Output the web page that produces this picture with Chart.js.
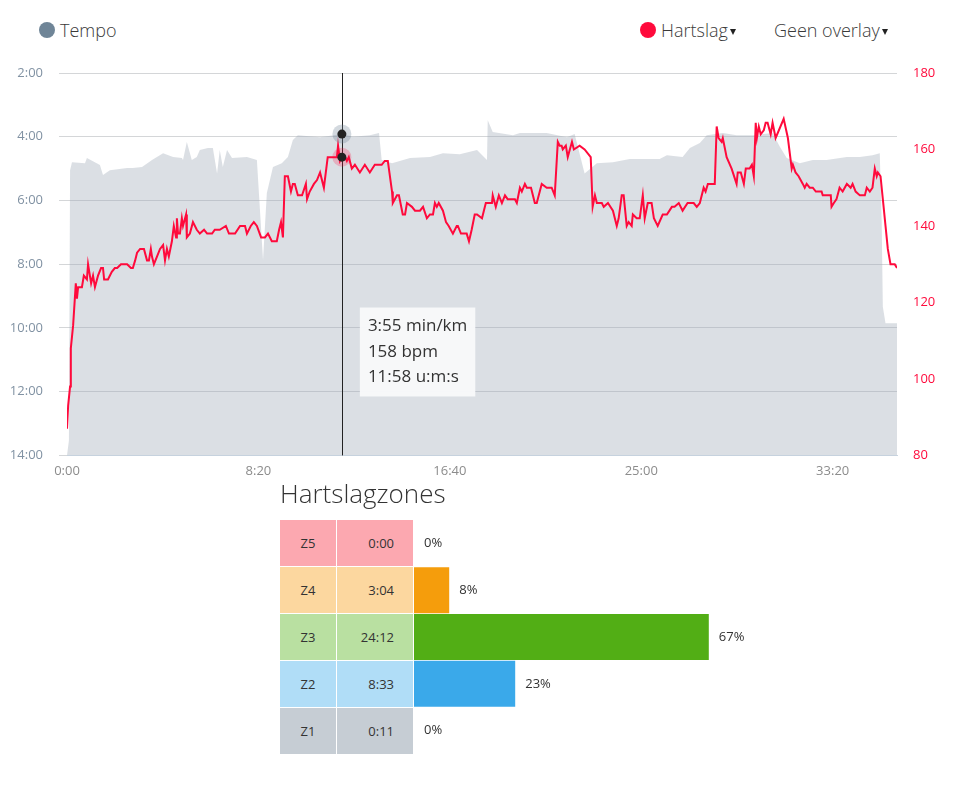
<!DOCTYPE html>
<html>
<head>
<meta charset="utf-8">
<script src="https://cdn.jsdelivr.net/npm/chart.js@4.4.0/dist/chart.umd.min.js"></script>
<style>
  body { margin: 0; background: #fff; font-family: "Open Sans", sans-serif; color: #333; width: 958px; height: 789px; overflow: hidden; position: relative; }
  .legend-item { position: absolute; top: 18px; font-size: 18px; line-height: 24px; display: flex; align-items: center; white-space: nowrap; color: #3a3a3a; font-weight: 300; }
  .dot { width: 16px; height: 16px; border-radius: 50%; display: inline-block; margin-right: 5px; }
  .caret { display: inline-block; width: 0; height: 0; margin-left: 2px; margin-top: 3px; border-left: 3.5px solid transparent; border-right: 3.5px solid transparent; border-top: 6px solid #222; }
  #mainWrap { position: absolute; left: 0; top: 60px; width: 958px; height: 430px; }
  #zonesTitle { position: absolute; left: 280px; top: 476px; font-size: 26px; line-height: 34px; font-weight: 300; color: #333; }
  #zoneGrid { position: absolute; left: 280px; top: 520px; display: grid; grid-template-columns: 56px 76px; grid-auto-rows: 46px; gap: 1px; }
  .cell { display: flex; align-items: center; font-size: 13px; }
  .cell.name { justify-content: center; }
  .cell.time { justify-content: flex-end; padding-right: 19px; }
  #barWrap { position: absolute; left: 414px; top: 520px; width: 500px; height: 234px; }
</style>
</head>
<body>

<div class="legend-item" style="left:39px"><span class="dot" style="background:#6f8597"></span>Tempo</div>
<div class="legend-item" style="left:640px"><span class="dot" style="background:#ff0a3c"></span>Hartslag<span class="caret"></span></div>
<div class="legend-item" style="left:774px">Geen overlay<span class="caret"></span></div>

<div id="mainWrap"><canvas id="mainChart"></canvas></div>

<div id="zonesTitle">Hartslagzones</div>
<div id="zoneGrid"></div>
<div id="barWrap"><canvas id="zoneChart"></canvas></div>

<script>
"use strict";

// Tempo (pace, seconds per km) over elapsed time (seconds)
const paceTimes = [
  0, 5, 8, 13, 47, 52, 86, 94, 112, 157,
  172, 196, 222, 251, 277, 300, 303, 313, 326, 339,
  347, 368, 381, 392, 399, 407, 418, 431, 470, 496,
  512, 522, 538, 561, 577, 590, 603, 661, 718, 747,
  791, 815, 822, 849, 896, 948, 982, 1026, 1071, 1097,
  1099, 1112, 1165, 1183, 1253, 1306, 1326, 1352, 1384, 1426,
  1470, 1548, 1567, 1608, 1627, 1653, 1671, 1713, 1749, 1791,
  1843, 1862, 1880, 1914, 1948, 1984, 2037, 2071, 2104, 2123,
  2128, 2131, 2138, 2149, 2168
];
const paceValues = [
  840, 812, 303, 288, 290, 280, 293, 312, 303, 299,
  299, 297, 284, 271, 278, 280, 284, 250, 284, 278,
  265, 261, 261, 309, 265, 297, 265, 280, 278, 284,
  472, 346, 297, 290, 278, 246, 237, 241, 235, 240,
  237, 233, 284, 290, 280, 278, 271, 273, 265, 284,
  209, 231, 237, 233, 233, 241, 235, 309, 290, 288,
  282, 282, 275, 278, 261, 252, 237, 233, 237, 237,
  233, 259, 280, 290, 284, 284, 278, 278, 275, 271,
  400, 560, 591, 591, 591
];

// Hartslag (bpm) over elapsed time (seconds)
const hrTimes = [
  0, 3, 8, 10, 16, 23, 26, 29, 39, 44,
  52, 55, 63, 68, 73, 81, 89, 94, 97, 104,
  107, 117, 125, 131, 141, 151, 157, 167, 172, 178,
  183, 191, 198, 201, 209, 214, 219, 222, 227, 235,
  243, 251, 256, 261, 266, 274, 279, 285, 287, 290,
  295, 300, 303, 311, 313, 321, 329, 339, 347, 358,
  366, 379, 386, 399, 415, 423, 431, 439, 452, 465,
  470, 480, 488, 496, 507, 517, 525, 535, 548, 554,
  559, 564, 569, 577, 585, 590, 595, 603, 614, 624,
  627, 634, 645, 653, 661, 671, 681, 705, 708, 713,
  718, 726, 731, 736, 744, 752, 765, 778, 791, 804,
  822, 830, 838, 849, 851, 862, 867, 877, 883, 888,
  901, 909, 922, 930, 940, 948, 956, 961, 966, 971,
  982, 990, 997, 1008, 1018, 1021, 1029, 1044, 1050, 1057,
  1065, 1071, 1084, 1094, 1110, 1112, 1120, 1128, 1136, 1144,
  1151, 1170, 1175, 1183, 1188, 1196, 1201, 1212, 1222, 1227,
  1240, 1253, 1266, 1274, 1282, 1287, 1292, 1295, 1303, 1308,
  1319, 1324, 1339, 1352, 1368, 1373, 1379, 1384, 1397, 1402,
  1413, 1426, 1436, 1441, 1449, 1454, 1462, 1467, 1475, 1478,
  1488, 1496, 1504, 1509, 1517, 1527, 1533, 1543, 1556, 1567,
  1580, 1587, 1598, 1608, 1621, 1627, 1637, 1645, 1653, 1663,
  1668, 1674, 1684, 1692, 1697, 1702, 1710, 1713, 1723, 1736,
  1749, 1752, 1760, 1768, 1773, 1783, 1789, 1794, 1799, 1802,
  1807, 1812, 1820, 1825, 1830, 1838, 1843, 1851, 1872, 1883,
  1893, 1896, 1903, 1911, 1922, 1927, 1932, 1940, 1948, 1956,
  1971, 1974, 1987, 1995, 1997, 2003, 2010, 2018, 2026, 2037,
  2047, 2052, 2060, 2071, 2084, 2089, 2097, 2104, 2110, 2115,
  2118, 2125, 2131, 2138, 2144, 2151, 2162, 2168
];
const hrValues = [
  87, 93, 98, 108, 114, 125, 121, 124, 124, 127,
  126, 130, 125, 127, 124, 127, 129, 129, 126, 126,
  126, 128, 129, 129, 130, 130, 130, 129, 129, 131,
  133, 134, 134, 134, 131, 131, 134, 132, 130, 132,
  134, 135, 131, 134, 132, 136, 140, 137, 142, 138,
  138, 142, 140, 143, 137, 138, 141, 139, 138, 139,
  138, 138, 139, 139, 140, 138, 138, 138, 140, 140,
  138, 140, 141, 140, 137, 137, 138, 136, 136, 139,
  141, 137, 153, 153, 149, 151, 151, 148, 148, 151,
  147, 149, 151, 152, 154, 150, 158, 158, 161, 157,
  158, 158, 157, 158, 155, 156, 154, 156, 154, 156,
  156, 157, 157, 149, 146, 148, 148, 143, 143, 146,
  145, 144, 144, 145, 142, 143, 143, 146, 145, 146,
  144, 141, 140, 138, 140, 140, 138, 138, 136, 139,
  143, 143, 142, 146, 146, 148, 145, 148, 146, 148,
  147, 147, 146, 150, 149, 151, 150, 150, 146, 146,
  151, 150, 150, 148, 162, 161, 161, 160, 161, 158,
  162, 160, 161, 160, 158, 145, 148, 146, 146, 145,
  146, 144, 140, 142, 148, 148, 140, 141, 140, 143,
  142, 142, 148, 142, 146, 146, 142, 140, 143, 143,
  145, 145, 146, 144, 146, 146, 146, 145, 146, 150,
  149, 151, 151, 151, 166, 163, 162, 163, 158, 155,
  151, 154, 154, 151, 155, 155, 156, 153, 167, 163,
  166, 164, 165, 167, 167, 164, 167, 163, 168, 163,
  155, 156, 154, 153, 151, 150, 151, 150, 150, 149,
  149, 148, 148, 148, 145, 146, 147, 150, 149, 151,
  150, 151, 149, 148, 148, 150, 149, 150, 155, 153,
  154, 153, 147, 140, 134, 130, 130, 129
];

// x axis tick positions (seconds)
const timeTicks = [0, 500, 1000, 1500, 2000];

// moment shown in the tooltip
const activeTime = 718;

// Hartslagzones
const zoneLabels = ["Z5", "Z4", "Z3", "Z2", "Z1"];
const zoneDurations = ["0:00", "3:04", "24:12", "8:33", "0:11"];
const zonePercents = [0, 8, 67, 23, 0];
const zoneCellColors = ["#fca8b0", "#fcd79f", "#b9e0a1", "#b0ddf7", "#c6cdd4"];
const zoneBarColors = ["#f0304a", "#f59d0c", "#52ae15", "#3aa9ea", "#9aa6b2"];

Chart.defaults.font.family = "'Open Sans', sans-serif";

function mmss(sec) {
  sec = Math.round(sec);
  let m = Math.floor(sec / 60);
  let s = sec % 60;
  return m + ":" + (s < 10 ? "0" : "") + s;
}

let pacePoints = paceTimes.map((t, i) => ({ x: t, y: paceValues[i] }));
let hrPoints = hrTimes.map((t, i) => ({ x: t, y: hrValues[i] }));

// tooltip sits to the right of the hovered line, low in the plot
Chart.Tooltip.positioners.besideLine = function (items) {
  if (!items.length) return false;
  let area = this.chart.chartArea;
  return { x: items[0].element.x + 18, y: area.bottom - 148 };
};

// vertical line + highlighted points for the active moment
const haloColors = ["rgba(110,130,150,0.30)", "rgba(255,10,60,0.22)"];
const crosshair = {
  id: "crosshair",
  afterDatasetsDraw(chart) {
    let act = chart.tooltip ? chart.tooltip.getActiveElements() : [];
    if (!act.length) return;
    let c = chart.ctx;
    let a = chart.chartArea;
    let x = Math.round(act[0].element.x) + 0.5;
    c.save();
    c.strokeStyle = "#222";
    c.lineWidth = 1;
    c.beginPath();
    c.moveTo(x, a.top);
    c.lineTo(x, a.bottom);
    c.stroke();
    act.forEach(ae => {
      let el = ae.element;
      c.fillStyle = haloColors[ae.datasetIndex];
      c.beginPath();
      c.arc(el.x, el.y, 9.5, 0, Math.PI * 2);
      c.fill();
      c.fillStyle = "#222";
      c.beginPath();
      c.arc(el.x, el.y, 4.5, 0, Math.PI * 2);
      c.fill();
    });
    c.restore();
  }
};

// fixed axis widths, and no extra label padding above/below the plot
function fixWidth(w) {
  return s => { s.width = w; s.paddingTop = 0; s.paddingBottom = 0; };
}

let mainChart = new Chart(document.getElementById("mainChart"), {
  type: "line",
  data: {
    datasets: [
      {
        label: "Tempo",
        data: pacePoints,
        yAxisID: "y",
        borderWidth: 0,
        borderColor: "rgba(0,0,0,0)",
        pointRadius: 0,
        pointHoverRadius: 0,
        fill: { value: 840 },
        backgroundColor: "rgba(160,172,184,0.38)",
        order: 2
      },
      {
        label: "Hartslag",
        data: hrPoints,
        yAxisID: "y1",
        borderColor: "#ff0a3c",
        borderWidth: 2,
        pointRadius: 0,
        pointHoverRadius: 0,
        fill: false,
        order: 1
      }
    ]
  },
  options: {
    responsive: true,
    maintainAspectRatio: false,
    animation: false,
    events: [],
    layout: { padding: { left: 10, right: 23, top: 13, bottom: 3 } },
    scales: {
      x: {
        type: "linear",
        min: 0,
        max: hrTimes[hrTimes.length - 1],
        grid: { display: false, drawTicks: false },
        border: { display: true, color: "#c9d4e0" },
        afterBuildTicks: axis => { axis.ticks = timeTicks.map(v => ({ value: v })); },
        ticks: {
          padding: 8,
          maxRotation: 0,
          color: "#8c8c8c",
          font: { size: 13 },
          callback: v => mmss(v)
        }
      },
      y: {
        position: "left",
        reverse: true,
        min: 120,
        max: 840,
        grid: { color: "#d4d6d8", tickLength: 8 },
        border: { display: false },
        afterFit: fixWidth(57),
        ticks: {
          stepSize: 120,
          padding: 16,
          color: "#8192a3",
          font: { size: 13 },
          callback: v => mmss(v)
        }
      },
      y1: {
        position: "right",
        min: 80,
        max: 180,
        grid: { drawOnChartArea: false, drawTicks: false },
        border: { display: false },
        afterFit: fixWidth(38),
        ticks: {
          stepSize: 20,
          padding: 16,
          color: "#ff0a3c",
          font: { size: 13 }
        }
      }
    },
    plugins: {
      legend: { display: false },
      tooltip: {
        enabled: true,
        position: "besideLine",
        xAlign: "left",
        yAlign: "top",
        caretSize: 0,
        caretPadding: 0,
        cornerRadius: 0,
        backgroundColor: "rgba(248,249,250,0.97)",
        bodyColor: "#333",
        bodyFont: { size: 17, lineHeight: 1.2 },
        bodySpacing: 5,
        padding: { top: 9, bottom: 9, left: 8, right: 8 },
        displayColors: false,
        callbacks: {
          title: () => "",
          label: item => item.datasetIndex === 0
            ? mmss(item.parsed.y) + " min/km"
            : item.parsed.y + " bpm",
          afterBody: items => mmss(items[0].parsed.x) + " u:m:s"
        }
      }
    }
  },
  plugins: [crosshair]
});

mainChart.tooltip.setActiveElements([
  { datasetIndex: 0, index: paceTimes.indexOf(activeTime) },
  { datasetIndex: 1, index: hrTimes.indexOf(activeTime) }
], { x: mainChart.scales.x.getPixelForValue(activeTime), y: mainChart.chartArea.top });
mainChart.update();


// Zones table (name + time cells)
let grid = document.getElementById("zoneGrid");
zoneLabels.forEach((z, i) => {
  let a = document.createElement("div");
  a.className = "cell name";
  a.style.background = zoneCellColors[i];
  a.textContent = z;
  let b = document.createElement("div");
  b.className = "cell time";
  b.style.background = zoneCellColors[i];
  b.textContent = zoneDurations[i];
  grid.appendChild(a);
  grid.appendChild(b);
});

// percentage text right of each bar
const percentLabels = {
  id: "percentLabels",
  afterDatasetsDraw(chart) {
    let c = chart.ctx;
    let meta = chart.getDatasetMeta(0);
    c.save();
    c.fillStyle = "#333";
    c.font = "13px 'Open Sans', sans-serif";
    c.textBaseline = "middle";
    meta.data.forEach((bar, i) => {
      c.fillText(zonePercents[i] + "%", bar.x + 10, bar.y);
    });
    c.restore();
  }
};

new Chart(document.getElementById("zoneChart"), {
  type: "bar",
  data: {
    labels: zoneLabels,
    datasets: [{
      data: zonePercents,
      backgroundColor: zoneBarColors,
      borderWidth: 0,
      barPercentage: 1,
      categoryPercentage: 0.98
    }]
  },
  options: {
    indexAxis: "y",
    responsive: true,
    maintainAspectRatio: false,
    animation: false,
    events: [],
    layout: { padding: { left: 0, right: 60, top: 0, bottom: 0 } },
    scales: {
      x: { display: false, min: 0, max: 100 },
      y: { display: false }
    },
    plugins: { legend: { display: false }, tooltip: { enabled: false } }
  },
  plugins: [percentLabels]
});
</script>
</body>
</html>
